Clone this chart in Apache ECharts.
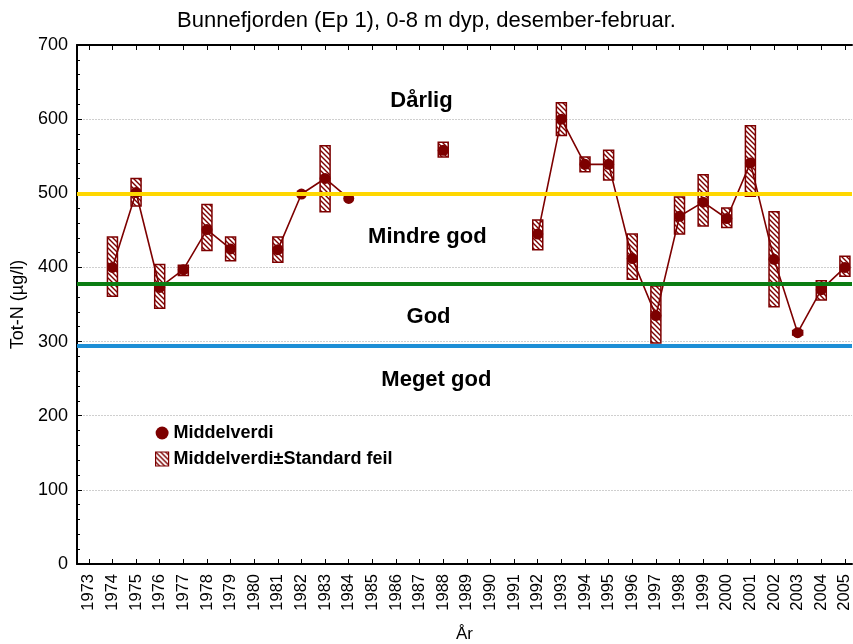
<!DOCTYPE html>
<html><head><meta charset="utf-8">
<script src="https://cdn.jsdelivr.net/npm/echarts@6/dist/echarts.min.js"></script>
<style>html,body{margin:0;padding:0;background:#fff}#c{width:853px;height:644px}</style>
</head><body><div id="c"></div>
<script>
var tickYears = [1973,1974,1975,1976,1977,1978,1979,1980,1981,1982,1983,1984,1985,1986,1987,1988,1989,1990,1991,1992,1993,1994,1995,1996,1997,1998,1999,2000,2001,2002,2003,2004,2005];
var years = [1974,1975,1976,1977,1978,1979,1981,1982,1983,1984,1988,1992,1993,1994,1995,1996,1997,1998,1999,2000,2001,2002,2003,2004,2005];
var means = [400,501,373,397,451,425,424,499,520,493,558,445,600,539,539,412,335,469,488,466,541,411,312,370,400];
var seLow = [361,483,345,389,423,409,407,null,475,null,549,424,578,529,518,384,298,445,456,454,496,347,309,356,388];
var seHigh = [441,520,404,403,485,441,441,null,564,null,569,464,622,549,558,445,375,495,525,480,591,475,315,382,415];
var classLimits = [500, 378, 295];
var classColors = ['#ffd700', '#0b7d12', '#1e8fd6'];
var zoneNames = ['Dårlig','Mindre god','God','Meget god'];
var zoneX = [1987.1, 1987.35, 1987.4, 1987.73];
var zoneY = [624, 441, 332, 248];

var RED = '#7d0000';
var pc = document.createElement('canvas');
pc.width = 5; pc.height = 5;
var g = pc.getContext('2d');
g.fillStyle = '#fff'; g.fillRect(0,0,5,5);
g.strokeStyle = RED; g.lineWidth = 1.4;
g.beginPath();
g.moveTo(-1,-1); g.lineTo(6,6);
g.moveTo(-1,4); g.lineTo(1,6);
g.moveTo(4,-1); g.lineTo(6,1);
g.stroke();
var hatch = {image: pc, repeat: 'repeat'};

var lineData = [];
for (var y = 1973; y <= 2005; y++) {
  var i = years.indexOf(y);
  lineData.push([y, i >= 0 ? means[i] : '-']);
}
var boxData = [];
for (var k = 0; k < years.length; k++) {
  if (seLow[k] != null) boxData.push([years[k], seLow[k], seHigh[k]]);
}
var FONT = 'Liberation Sans, Arial, sans-serif';

var chart = echarts.init(document.getElementById('c'), null, {renderer: 'canvas'});
chart.setOption({
  animation: false,
  backgroundColor: '#fff',
  title: {text: 'Bunnefjorden (Ep 1), 0-8 m dyp, desember-februar.', left: 'center', top: 5,
    textStyle: {fontFamily: FONT, fontWeight: 'normal', fontSize: 22, color: '#000'}},
  grid: {left: 77, right: 1, top: 45, bottom: 80, containLabel: false, outerBoundsMode: 'none'},
  legend: {
    orient: 'vertical', left: 150, top: 419, itemWidth: 13, itemHeight: 14, itemGap: 8,
    textStyle: {fontFamily: FONT, fontWeight: 'bold', fontSize: 18, color: '#000'},
    data: [
      {name: 'Middelverdi', icon: 'circle', itemStyle: {color: RED}},
      {name: 'Middelverdi±Standard feil', icon: 'rect', itemStyle: {color: hatch, borderColor: RED, borderWidth: 1.2}}
    ]
  },
  xAxis: [{
    type: 'value', min: 1972.5, max: 2005.3, position: 'bottom',
    name: 'År', nameLocation: 'middle', nameGap: 62,
    nameTextStyle: {fontFamily: FONT, fontSize: 17, color: '#000'},
    axisLine: {show: true, lineStyle: {color: '#000', width: 2}},
    axisTick: {show: true, inside: true, length: 5, customValues: tickYears, lineStyle: {color: '#000', width: 1}},
    axisLabel: {show: true, rotate: 90, customValues: tickYears, fontFamily: FONT, fontSize: 16.5, color: '#000', margin: 10,
      formatter: function (v) { return String(v); }},
    splitLine: {show: false}
  }, {
    type: 'value', min: 1972.5, max: 2005.3, position: 'top',
    axisLine: {show: true, lineStyle: {color: '#000', width: 2}},
    axisTick: {show: true, inside: true, length: 5, customValues: tickYears, lineStyle: {color: '#000', width: 1}},
    axisLabel: {show: false},
    splitLine: {show: false}
  }],
  yAxis: [{
    type: 'value', min: 0, max: 700, interval: 100,
    name: 'Tot-N (µg/l)', nameLocation: 'middle', nameGap: 50,
    nameTextStyle: {fontFamily: FONT, fontSize: 18, color: '#000'},
    axisLine: {show: true, lineStyle: {color: '#000', width: 2}},
    axisTick: {show: true, inside: true, length: 5, lineStyle: {color: '#000'}},
    minorTick: {show: true, splitNumber: 5, length: 3, lineStyle: {color: '#000'}},
    axisLabel: {fontFamily: FONT, fontSize: 18, color: '#000', margin: 9},
    splitLine: {show: true, lineStyle: {color: '#cfcfcf', type: [2, 1], width: 1}}
  }],
  series: [
    {
      name: 'limits', type: 'line', data: [], silent: true, z: 1,
      markLine: {
        silent: true, symbol: 'none', label: {show: false},
        data: classLimits.map(function (v, i) { return {yAxis: v, lineStyle: {color: classColors[i], width: 4, type: 'solid'}}; })
      }
    },
    {
      name: 'Middelverdi±Standard feil', type: 'custom', z: 3,
      itemStyle: {color: hatch, borderColor: RED},
      data: boxData,
      renderItem: function (params, api) {
        var top = api.coord([api.value(0), api.value(2)]);
        var bot = api.coord([api.value(0), api.value(1)]);
        return {
          type: 'rect',
          shape: {x: top[0] - 5, y: top[1], width: 10, height: bot[1] - top[1]},
          style: {fill: hatch, stroke: RED, lineWidth: 1.5}
        };
      }
    },
    {
      name: 'Middelverdi', type: 'line', z: 4, data: lineData, connectNulls: false,
      symbol: 'circle', symbolSize: 11, showSymbol: true, showAllSymbol: true,
      itemStyle: {color: RED}, lineStyle: {color: RED, width: 1.6}
    },
    {
      name: 'zones', type: 'scatter', z: 5, symbolSize: 1, itemStyle: {color: 'rgba(0,0,0,0)'}, silent: true,
      data: zoneNames.map(function (n, i) { return {name: n, value: [zoneX[i], zoneY[i]]}; }),
      label: {show: true, position: [0, 0], align: 'center', verticalAlign: 'middle', formatter: '{b}',
        fontFamily: FONT, fontWeight: 'bold', fontSize: 22, color: '#000', textBorderWidth: 0, opacity: 1}
    }
  ]
});
</script></body></html>
